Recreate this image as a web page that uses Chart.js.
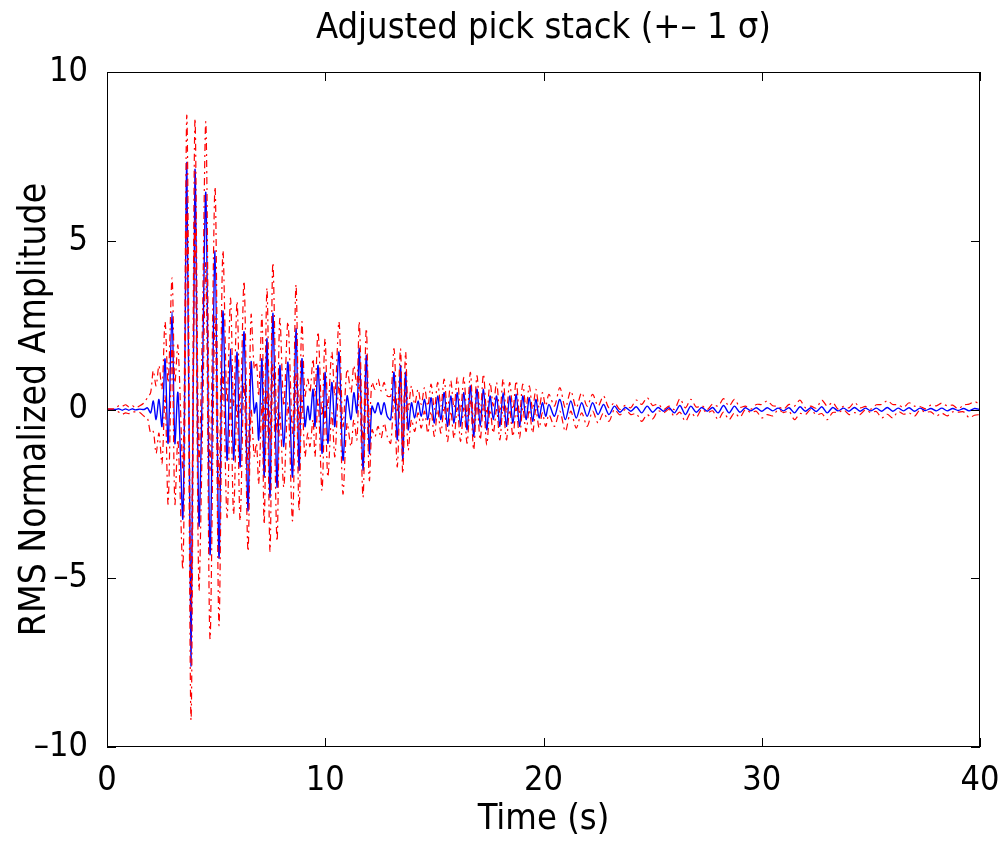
<!DOCTYPE html>
<html>
<head>
<meta charset="utf-8">
<script src="https://cdn.jsdelivr.net/npm/chart.js@4.4.1/dist/chart.umd.min.js"></script>
<style>
    html, body { margin: 0; padding: 0; background: #fff; }
    #stack { display: block; }
</style>
</head>
<body>
<canvas id="stack" width="1006" height="841"></canvas>
<script>
// Time of each sample (s), picked at the wiggles of the stacked trace
const time = [
    0, 0.4, 0.55, 0.7, 0.85, 1.0, 1.15, 1.3, 1.5, 1.7,
    1.85, 2.0, 2.12, 2.25, 2.38, 2.52, 2.66, 2.8,
    2.98, 3.11, 3.25, 3.48, 3.66, 3.85, 4.03, 4.21,
    4.36, 4.53, 4.72, 4.95, 5.13, 5.31, 5.5,
    5.66, 5.8, 5.96, 6.1, 6.28, 6.46, 6.6, 6.75,
    6.85, 6.95, 7.1, 7.2, 7.33, 7.47, 7.6, 7.79,
    7.92, 8.1, 8.29, 8.5, 8.66, 8.8, 8.93, 9.07,
    9.2, 9.3, 9.44, 9.53, 9.67, 9.85, 9.99, 10.12,
    10.3, 10.44, 10.63, 10.81, 11.0, 11.18, 11.31, 11.45,
    11.56, 11.73, 11.88, 12.02, 12.14, 12.28, 12.42, 12.56,
    12.7, 12.84,
    13.0, 13.15, 13.3, 13.45, 13.55, 13.68, 13.8, 13.95,
    14.1, 14.25, 14.4, 14.55, 14.7, 14.85, 15.0, 15.15,
    15.3, 15.45, 15.6, 15.75, 15.9, 16.05, 16.2, 16.35,
    16.5, 16.65, 16.8, 16.95, 17.1, 17.25, 17.4, 17.55,
    17.7, 17.85, 18.0, 18.15, 18.3, 18.45, 18.6, 18.75,
    18.9, 19.05, 19.2, 19.35, 19.5, 19.65, 19.8, 19.95,
    20.1,
    20.25, 20.5, 20.75, 21.0, 21.25, 21.5, 21.75, 22.0,
    22.25, 22.5, 22.75, 23.0, 23.25, 23.5, 23.75, 24.0,
    24.25, 24.5, 24.75, 25.0, 25.25, 25.5, 25.75, 26.0,
    26.25, 26.5, 26.75, 27.0, 27.25, 27.5, 27.75, 28.0,
    28.25, 28.5, 28.75, 29.0, 29.25, 29.5, 29.75, 30.0,
    30.25, 30.5, 30.75, 31.0, 31.25, 31.5, 31.75, 32.0,
    32.25, 32.5, 32.75, 33.0, 33.25, 33.5, 33.75, 34.0,
    34.25, 34.5, 34.75, 35.0, 35.25, 35.5, 35.75, 36.0,
    36.25, 36.5, 36.75, 37.0, 37.25, 37.5, 37.75, 38.0,
    38.25, 38.5, 38.75, 39.0, 39.25, 39.5, 39.75, 40.0
];

// Adjusted pick stack (RMS normalized)
const stack = [
    0, 0, 0.02, -0.02, 0.02, -0.02, 0.02, -0.01, 0.01, 0,
    0.05, -0.1, 0.25, -0.3, 0.3, -0.5, 1.5, -1.0,
    2.9, -1.0, 0.5, -3.2, 7.3, -7.6, 7.1, -3.4,
    0.5, 6.4, -4.3, 4.7, -4.4, 2.9, -1.5,
    1.8, -1.5, 1.7, -1.7, 2.3, -3.0, 1.4, -0.1,
    0.2, -0.9, 1.5, -2.0, 2.1, -2.6, 2.85, -2.3,
    1.3, -1.1, 1.4, -2.0, 2.4, -1.8, 1.5, -0.5,
    0.1, -0.3, 0.6, -0.5, 1.3, -1.3, 1.1, -1.0,
    0.8, -0.5, 1.7, -1.5, 0.4, -0.3, 0.5, -0.1,
    1.8, -1.8, 1.6, -1.3, 0.1, -0.1, 0.2, -0.15,
    0.2, -0.2,
    -0.3, 1.1, -0.9, 1.3, -1.5, 1.1, -0.6, 0.2,
    -0.25, 0.25, -0.2, 0.3, -0.3, 0.35, -0.4, 0.4,
    -0.3, 0.5, -0.5, 0.4, -0.4, 0.5, -0.5, 0.5,
    -0.6, 0.7, -0.8, 0.6, -0.5, 0.6, -0.6, 0.4,
    -0.3, 0.4, -0.5, 0.5, -0.5, 0.4, -0.4, 0.45,
    -0.5, 0.4, -0.3, 0.35, -0.35, 0.3, -0.25, 0.2,
    -0.2,
    0.15, -0.2, 0.3, -0.3, 0.25, -0.25, 0.2, -0.2,
    0.2, -0.15, 0.15, -0.15, 0.1, -0.08, 0.06, -0.05,
    0.08, -0.1, 0.1, -0.08, 0.06, -0.05, 0.05, -0.1,
    0.12, -0.15, 0.1, -0.08, 0.06, -0.05, 0.06, -0.1,
    0.12, -0.1, 0.1, -0.08, 0.05, -0.04, 0.05, -0.05,
    0.05, -0.04, 0.04, -0.04, 0.05, -0.1, 0.08, -0.05,
    0.05, -0.06, 0.08, -0.1, 0.06, -0.04, 0.04, -0.05,
    0.06, -0.05, 0.04, -0.04, 0.04, -0.05, 0.06, -0.05,
    0.04, -0.04, 0.05, -0.05, 0.04, -0.03, 0.03, -0.04,
    0.04, -0.04, 0.03, -0.03, 0.03, -0.04, 0.03, 0
];

// One standard deviation around the stack
const sigma = [
    0.02, 0.03, 0.1, 0.12, 0.12, 0.1, 0.1, 0.06, 0.1, 0.2,
    0.3, 0.6, 0.9, 1.0, 1.0, 1.1, 1.1, 1.8,
    1.0, 1.8, 1.4, 1.5, 1.4, 1.6, 1.5, 1.9,
    1.6, 2.1, 2.5, 1.9, 2.0, 1.8, 1.7,
    1.5, 1.6, 1.5, 1.6, 1.5, 1.2, 1.4, 1.3,
    1.2, 1.3, 1.3, 1.4, 1.5, 1.6, 1.5, 1.6,
    1.4, 1.2, 1.2, 1.3, 1.3, 1.2, 1.1, 0.9,
    0.8, 0.8, 0.9, 0.9, 1.0, 1.1, 1.0, 1.0,
    0.9, 0.9, 0.9, 1.0, 0.8, 0.8, 0.8, 0.8,
    0.8, 0.8, 0.8, 0.8, 0.7, 0.7, 0.7, 0.7,
    0.6, 0.6,
    0.7, 0.7, 0.8, 0.5, 0.4, 0.6, 0.6, 0.5,
    0.4, 0.35, 0.35, 0.35, 0.4, 0.4, 0.4, 0.4,
    0.4, 0.4, 0.45, 0.45, 0.45, 0.45, 0.45, 0.45,
    0.4, 0.4, 0.4, 0.4, 0.4, 0.45, 0.45, 0.4,
    0.4, 0.4, 0.4, 0.4, 0.4, 0.4, 0.4, 0.4,
    0.35, 0.35, 0.35, 0.35, 0.35, 0.3, 0.3, 0.3,
    0.3,
    0.3, 0.3, 0.35, 0.35, 0.3, 0.3, 0.3, 0.3,
    0.25, 0.25, 0.25, 0.2, 0.1, 0.08, 0.06, 0.1,
    0.2, 0.25, 0.25, 0.2, 0.1, 0.05, 0.05, 0.1,
    0.2, 0.2, 0.2, 0.15, 0.05, 0.05, 0.1, 0.2,
    0.2, 0.2, 0.2, 0.15, 0.05, 0.05, 0.1, 0.2,
    0.2, 0.15, 0.05, 0.05, 0.1, 0.2, 0.2, 0.1,
    0.05, 0.1, 0.2, 0.2, 0.15, 0.05, 0.05, 0.1,
    0.15, 0.1, 0.05, 0.05, 0.1, 0.2, 0.2, 0.2,
    0.1, 0.1, 0.15, 0.15, 0.05, 0.05, 0.1, 0.15,
    0.15, 0.15, 0.1, 0.05, 0.1, 0.2, 0.2, 0.15
];

const xTicks = [0, 10, 20, 30, 40];
const yTicks = [-10, -5, 0, 5, 10];

const FONT = '"Liberation Sans Narrow", "DejaVu Sans Condensed", sans-serif';

// box around the plot with inward tick marks on all four sides (matlab style)
const frameBox = {
    id: 'frameBox',
    afterDatasetsDraw(chart) {
        const ctx = chart.ctx;
        const a = chart.chartArea;
        const x = chart.scales.x;
        const y = chart.scales.y;
        ctx.save();
        ctx.strokeStyle = '#000';
        ctx.lineWidth = 1;
        ctx.strokeRect(a.left + 0.5, a.top + 0.5, a.right - a.left - 1, a.bottom - a.top - 1);
        ctx.beginPath();
        xTicks.forEach(v => {
            const px = Math.round(x.getPixelForValue(v)) + 0.5;
            ctx.moveTo(px, a.bottom);
            ctx.lineTo(px, a.bottom - 9);
            ctx.moveTo(px, a.top);
            ctx.lineTo(px, a.top + 9);
        });
        yTicks.forEach(v => {
            const py = Math.round(y.getPixelForValue(v)) + 0.5;
            ctx.moveTo(a.left, py);
            ctx.lineTo(a.left + 9, py);
            ctx.moveTo(a.right, py);
            ctx.lineTo(a.right - 9, py);
        });
        ctx.stroke();
        ctx.restore();
    }
};

function toPoints(values) {
    return values.map((v, i) => ({x: time[i], y: v}));
}

document.addEventListener("DOMContentLoaded", function () {
    const upper = stack.map((v, i) => v + sigma[i]);
    const lower = stack.map((v, i) => v - sigma[i]);

    const redLine = {
        borderColor: '#ff0000',
        borderWidth: 1.2,
        borderDash: [7, 4, 2, 4],
        pointRadius: 0,
        tension: 0.3,
        fill: false
    };

    new Chart(document.getElementById('stack'), {
        type: 'line',
        data: {
            datasets: [
                Object.assign({label: '+1 sigma', data: toPoints(upper)}, redLine),
                Object.assign({label: '-1 sigma', data: toPoints(lower)}, redLine),
                {
                    label: 'stack',
                    data: toPoints(stack),
                    borderColor: '#0000ff',
                    borderWidth: 1.4,
                    pointRadius: 0,
                    tension: 0.3,
                    fill: false
                }
            ]
        },
        options: {
            responsive: false,
            animation: false,
            events: [],
            layout: {padding: {left: 0, right: 26, top: 0, bottom: 0}},
            plugins: {
                legend: {display: false},
                tooltip: {enabled: false},
                title: {
                    display: true,
                    fullSize: false,
                    text: 'Adjusted pick stack (+\u2013 1 \u03c3)',
                    color: '#000',
                    font: {family: FONT, size: 36, weight: 'normal', lineHeight: 1.2},
                    padding: {top: 7, bottom: 21.8}
                }
            },
            scales: {
                x: {
                    type: 'linear',
                    min: 0,
                    max: 40,
                    afterBuildTicks: scale => { scale.ticks = xTicks.map(v => ({value: v})); },
                    afterFit: scale => { scale.height = 94; },
                    grid: {display: false},
                    border: {display: false},
                    ticks: {
                        color: '#000',
                        padding: 6,
                        maxRotation: 0,
                        font: {family: FONT, size: 34}
                    },
                    title: {
                        display: true,
                        text: 'Time (s)',
                        color: '#000',
                        font: {family: FONT, size: 36},
                        padding: {top: 0, bottom: 0}
                    }
                },
                y: {
                    min: -10,
                    max: 10,
                    afterBuildTicks: scale => { scale.ticks = yTicks.map(v => ({value: v})); },
                    afterFit: scale => { scale.width = 107; },
                    grid: {display: false},
                    border: {display: false},
                    ticks: {
                        color: '#000',
                        padding: 11,
                        font: {family: FONT, size: 34},
                        callback: v => String(v).replace('-', '\u2013')
                    },
                    title: {
                        display: true,
                        text: 'RMS Normalized Amplitude',
                        color: '#000',
                        font: {family: FONT, size: 37},
                        padding: {top: 13, bottom: 0}
                    }
                }
            }
        },
        plugins: [frameBox]
    });
});
</script>
</body>
</html>
